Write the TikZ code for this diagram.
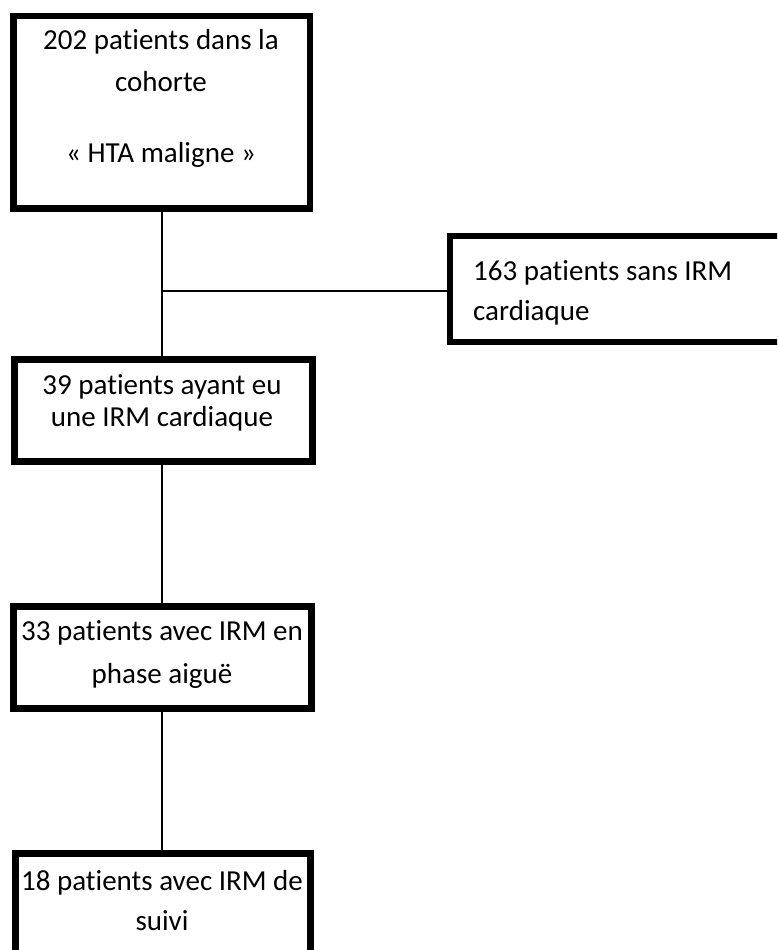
\documentclass[tikz,border=0pt]{standalone}
\usepackage{fontspec}
\setmainfont{Carlito}[Ligatures=NoCommon]
\begin{document}
\begin{tikzpicture}[x=1pt,y=-1pt,
  box/.style={draw, line width=6.5pt, inner sep=0pt, rectangle},
  lbl/.style={anchor=base, inner sep=0pt, font=\fontsize{29}{35}\selectfont},
  lbll/.style={anchor=base west, inner sep=0pt, font=\fontsize{29}{35}\selectfont},
  conn/.style={line width=1.8pt},
  connh/.style={line width=1.3pt}]
\useasboundingbox (0,0) rectangle (777,950);
\clip (0,0) rectangle (777,950);
\node[box, minimum width=296.7pt, minimum height=192.7pt] (b1) at (161.7,112.3) {};
\node[box, minimum width=340pt, minimum height=106pt] (b2) at (620,289) {};
\node[box, minimum width=298.4pt, minimum height=102.4pt] (b3) at (163.5,410.5) {};
\node[box, minimum width=298.4pt, minimum height=102.4pt] (b4) at (162.5,657.5) {};
\node[box, minimum width=295.4pt, minimum height=106.7pt] (b5) at (163,906.7) {};
\coordinate (j) at (162,291);
% texts
\node[lbl] (t1a) at (161,49) {202 patients dans la};
\node[lbl] (t1b) at (161,92) {cohorte};
\node[lbl] (t1c) at (161,162) {« HTA maligne »};
\node[lbll] (t2a) at (473,280) {163 patients sans IRM};
\node[lbll] (t2b) at (473,320) {cardiaque};
\node[lbl] (t3a) at (162,394) {39 patients ayant eu};
\node[lbl] (t3b) at (162,426) {une IRM cardiaque};
\node[lbl] (t4a) at (162,640) {33 patients avec IRM en};
\node[lbl] (t4b) at (162,683) {phase aiguë};
\node[lbl] (t5a) at (162,890) {18 patients avec IRM de};
\node[lbl] (t5b) at (162,930) {suivi};
% connectors
\draw[conn] (b1.south -| j) -- (b3.north -| j);
\draw[connh] (j) -- (j -| b2.west);
\draw[conn] (b3.south -| j) -- (b4.north -| j);
\draw[conn] (b4.south -| j) -- (b5.north -| j);
\end{tikzpicture}
\end{document}
